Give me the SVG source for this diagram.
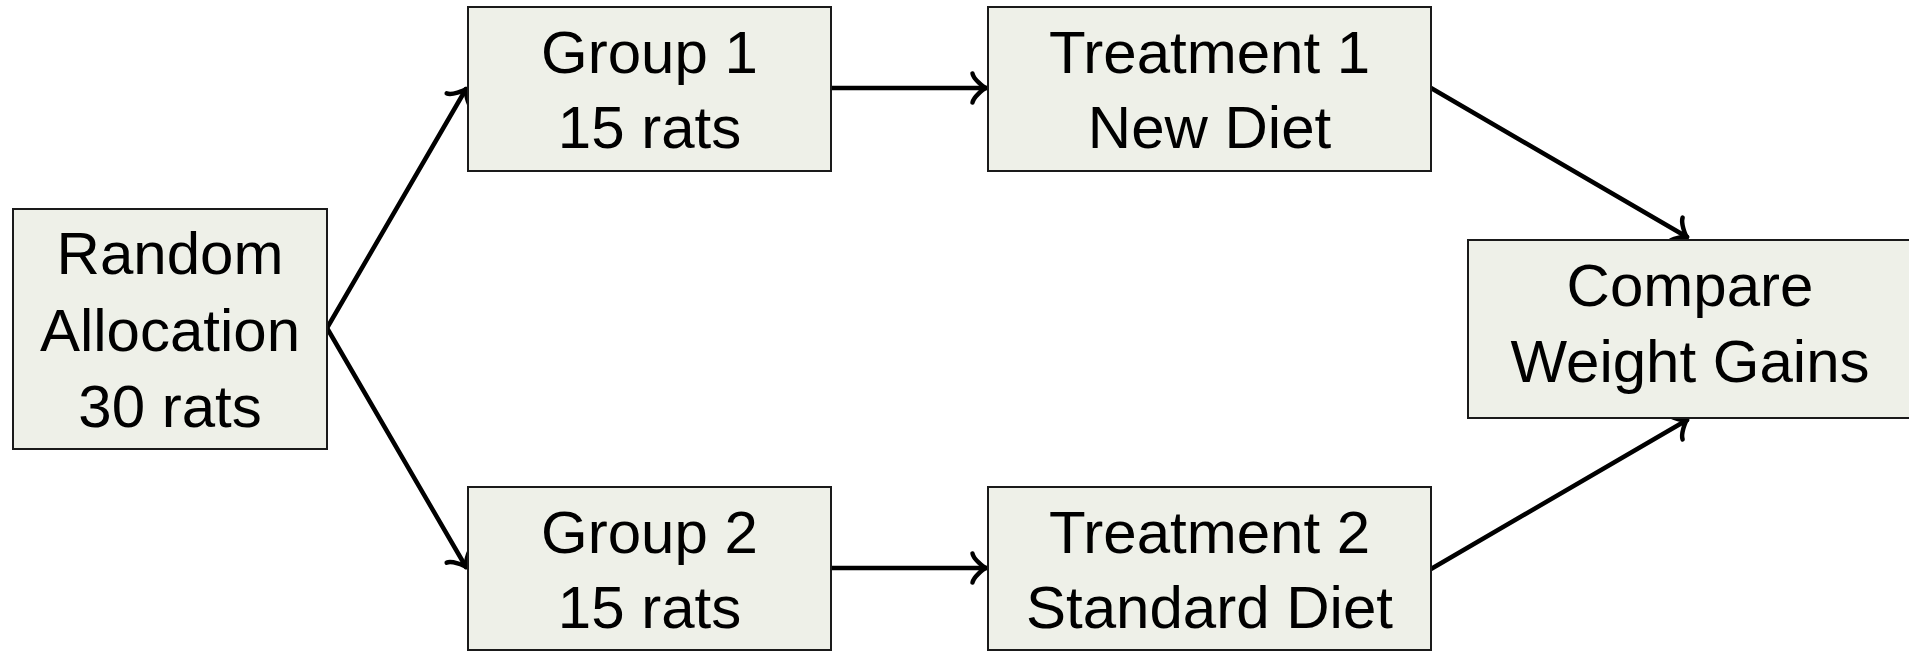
<svg xmlns="http://www.w3.org/2000/svg" width="1909" height="651" viewBox="0 0 1909 651">
  <style>
    .box { fill: #eef0e8; stroke: #1a1a1a; stroke-width: 2; }
    .label { font-family: "Liberation Sans", Arial, sans-serif; font-size: 60px; fill: #000; text-anchor: middle; }
    .edge { fill: none; stroke: #000; stroke-width: 4.5; stroke-linecap: round; }
  </style>
  <defs>
    <!-- curved open arrowhead, tip at the line end -->
    <marker id="tip" markerUnits="userSpaceOnUse" markerWidth="40" markerHeight="40" viewBox="-20 -20 40 40" refX="0" refY="0" orient="auto" overflow="visible">
      <path d="M -13.5 14.5 C -12.6 9, -2.7 0.9, 0 0 C -2.7 -0.9, -12.6 -9, -13.5 -14.5" fill="none" stroke="#000" stroke-width="4.5" stroke-linecap="round" stroke-linejoin="round"/>
    </marker>
  </defs>

  <rect width="1909" height="651" fill="#ffffff"/>

  <g id="connectors">
    <line class="edge" x1="327" y1="328" x2="466" y2="89" marker-end="url(#tip)"/>
    <line class="edge" x1="327" y1="328" x2="466" y2="567" marker-end="url(#tip)"/>
    <line class="edge" x1="831" y1="88" x2="986" y2="88" marker-end="url(#tip)"/>
    <line class="edge" x1="831" y1="568" x2="986" y2="568" marker-end="url(#tip)"/>
    <line class="edge" x1="1431" y1="88" x2="1687" y2="237" marker-end="url(#tip)"/>
    <line class="edge" x1="1431" y1="569" x2="1687" y2="420" marker-end="url(#tip)"/>
  </g>

  <g id="random-allocation">
    <rect class="box" x="13" y="209" width="314" height="240"/>
    <text class="label" x="170" y="274">Random</text>
    <text class="label" x="170" y="351">Allocation</text>
    <text class="label" x="170" y="427">30 rats</text>
  </g>

  <g id="group-1">
    <rect class="box" x="468" y="7" width="363" height="164"/>
    <text class="label" x="649.5" y="73">Group 1</text>
    <text class="label" x="649.5" y="148">15 rats</text>
  </g>

  <g id="group-2">
    <rect class="box" x="468" y="487" width="363" height="163"/>
    <text class="label" x="649.5" y="553">Group 2</text>
    <text class="label" x="649.5" y="628">15 rats</text>
  </g>

  <g id="treatment-1">
    <rect class="box" x="988" y="7" width="443" height="164"/>
    <text class="label" x="1209.5" y="73">Treatment 1</text>
    <text class="label" x="1209.5" y="148">New Diet</text>
  </g>

  <g id="treatment-2">
    <rect class="box" x="988" y="487" width="443" height="163"/>
    <text class="label" x="1209.5" y="553">Treatment 2</text>
    <text class="label" x="1209.5" y="628">Standard Diet</text>
  </g>

  <g id="compare">
    <rect class="box" x="1468" y="240" width="444" height="178"/>
    <text class="label" x="1690" y="306">Compare</text>
    <text class="label" x="1690" y="382">Weight Gains</text>
  </g>
</svg>
